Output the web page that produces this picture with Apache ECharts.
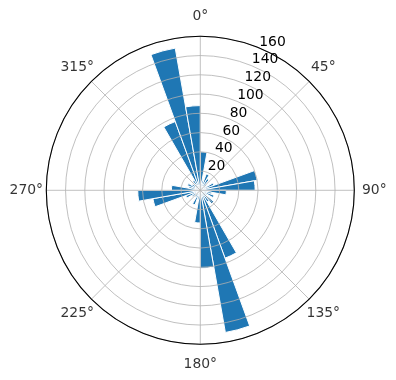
<!DOCTYPE html>
<html>
<head>
<meta charset="utf-8">
<script src="https://cdn.jsdelivr.net/npm/echarts@6/dist/echarts.min.js"></script>
<style>
html,body{margin:0;padding:0;background:#fff;}
#chart{width:396px;height:380px;}
</style>
</head>
<body>
<div id="chart"></div>
<script>
// 10-degree direction bins (compass degrees, clockwise from north)
const binStarts = ['0','10','20','30','40','50','60','70','80','90','100','110','120','130','140','150','160','170',
                   '180','190','200','210','220','230','240','250','260','270','280','290','300','310','320','330','340','350'];
const counts = [40, 10, 18, 14, 8, 5, 15, 60, 57, 27, 12, 15, 8, 18, 14, 75, 150, 81,
                34, 10, 16, 8, 5, 10, 16, 50, 65, 30, 12, 14, 10, 8, 12, 76, 150, 88];
const angleTickValues = [0, 45, 90, 135, 180, 225, 270, 315];
const angleTickLabels = ['0°','45°','90°','135°','180°','225°','270°','315°'];
const radiusTicks = [0, 20, 40, 60, 80, 100, 120, 140, 160];

const CX = 200.3, CY = 190.3, R = 154, R_LABEL = 174;
const FONT = 'DejaVu Sans';
const chart = echarts.init(document.getElementById('chart'), null, {renderer: 'canvas'});
const rMax = radiusTicks[radiusTicks.length - 1];
const rStep = radiusTicks[1] - radiusTicks[0];

const hiddenAngle = {axisLine: {show: false}, axisTick: {show: false}, axisLabel: {show: false}, splitLine: {show: false}};

chart.setOption({
  animation: false,
  backgroundColor: '#ffffff',
  polar: [
    {center: [CX, CY], radius: R},
    {center: [CX, CY], radius: R},
    {center: [CX, CY], radius: R},
    {center: [CX, CY], radius: R_LABEL}
  ],
  angleAxis: [
    Object.assign({polarIndex: 0, type: 'category', data: binStarts, startAngle: 90, clockwise: true, boundaryGap: true}, hiddenAngle),
    { // grid
      polarIndex: 1, type: 'value', min: 0, max: 360, interval: 45, startAngle: 90, clockwise: true, z: 5,
      axisLine: {show: true, lineStyle: {color: '#000', width: 1.1}},
      axisTick: {show: false},
      splitLine: {show: true, lineStyle: {color: '#b0b0b0', width: 0.8}},
      axisLabel: {show: false}
    },
    Object.assign({polarIndex: 2, type: 'value', min: 0, max: 360, startAngle: 67.5, clockwise: true}, hiddenAngle),
    Object.assign({polarIndex: 3, type: 'value', min: 0, max: 360, startAngle: 90, clockwise: true}, hiddenAngle)
  ],
  radiusAxis: [
    {polarIndex: 0, type: 'value', min: 0, max: rMax, interval: rStep,
     axisLine: {show: false}, axisTick: {show: false}, axisLabel: {show: false}, splitLine: {show: false}},
    {polarIndex: 1, type: 'value', min: 0, max: rMax, interval: rStep, z: 5,
     axisLine: {show: false}, axisTick: {show: false}, axisLabel: {show: false},
     splitLine: {show: true, lineStyle: {color: '#b0b0b0', width: 0.8}}},
    {polarIndex: 2, type: 'value', min: 0, max: rMax, interval: rStep, z: 6,
     axisLine: {show: false}, axisTick: {show: false}, splitLine: {show: false},
     axisLabel: {show: true, showMinLabel: false, margin: 0, color: '#000', fontFamily: FONT, fontSize: 13.9,
                 align: 'left', verticalAlign: 'bottom', lineHeight: 12, rotate: 0}},
    {polarIndex: 3, type: 'value', min: 0, max: 2,
     axisLine: {show: false}, axisTick: {show: false}, axisLabel: {show: false}, splitLine: {show: false}}
  ],
  series: [{
    type: 'bar',
    coordinateSystem: 'polar',
    polarIndex: 0,
    data: counts,
    barCategoryGap: '0%',
    barGap: '0%',
    itemStyle: {color: '#1f77b4', borderColor: '#ffffff', borderWidth: 1},
    z: 2
  }, {
    type: 'scatter',
    coordinateSystem: 'polar',
    polarIndex: 3,
    data: angleTickValues.map(function (a) { return [2, a]; }),
    symbolSize: 2,
    itemStyle: {color: 'rgba(0,0,0,0)'},
    silent: true,
    label: {
      show: true, position: 'inside', color: '#000', fontFamily: FONT, fontSize: 13.9,
      formatter: function (p) { return angleTickLabels[p.dataIndex]; }
    },
    labelLayout: {hideOverlap: false},
    z: 7
  }]
});
</script>
</body>
</html>
